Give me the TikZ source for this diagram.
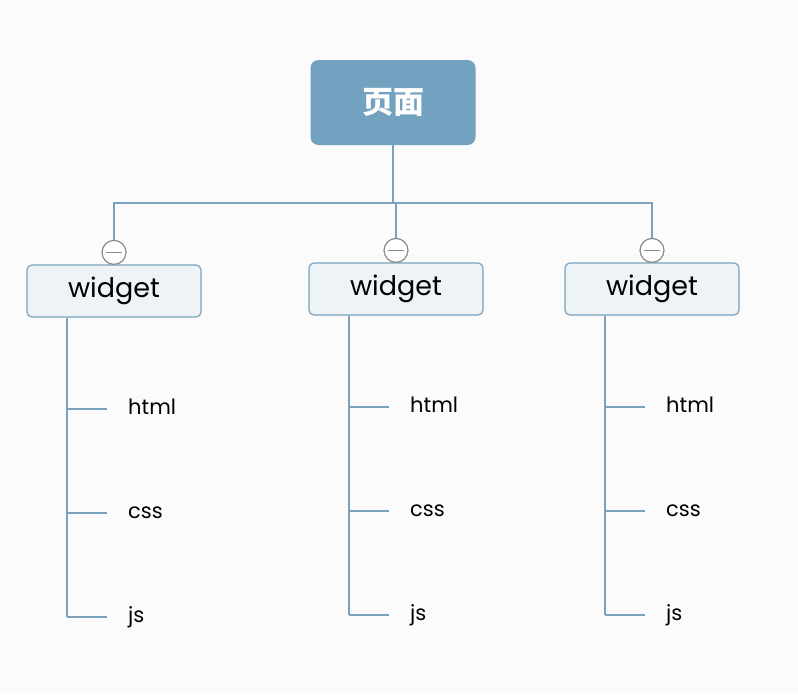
\documentclass[tikz,border=0pt]{standalone}
\usepackage{fontspec}
\setmainfont{Poppins}
\newfontfamily\cjk{Noto Sans CJK SC}
\usetikzlibrary{positioning}
\definecolor{rootblue}{HTML}{73A1C0}
\definecolor{linkblue}{HTML}{7AA2BE}
\definecolor{boxfill}{HTML}{EEF3F7}
\definecolor{bggray}{HTML}{FBFBFB}
\definecolor{knobgray}{HTML}{8A8A8A}
\begin{document}
\begin{tikzpicture}[
    x=1pt, y=-1pt,
    root/.style={fill=rootblue, rounded corners=8pt, minimum width=165pt, minimum height=85pt, text=white, font=\cjk\bfseries\fontsize{31}{36}\selectfont},
    topic/.style={draw=linkblue, fill=boxfill, line width=1.2pt, rounded corners=5pt, minimum width=174pt, minimum height=52pt, font=\fontsize{27}{30}\selectfont},
    leaf/.style={inner sep=0pt, text height=15pt, text depth=5pt, font=\fontsize{21}{24}\selectfont},
    link/.style={draw=linkblue, line width=1.5pt},
    knob/.style={circle, draw=knobgray, fill=white, line width=1.2pt, minimum size=24pt, inner sep=0pt}
]
\fill[bggray] (0,0) rectangle (798,694);

\node[root] (page) at (393,102.5) {页面};
\node[topic] (wL) at (114,291) {widget};
\node[topic] (wM) at (396,289) {widget};
\node[topic] (wR) at (652,289) {widget};

\coordinate (bus) at (393,203);
\draw[link] (page.south) -- (bus);
\draw[link] (bus) -| (wL.north);
\draw[link] (bus) -| (wM.north);
\draw[link] (bus) -| (wR.north);

\foreach \w in {wL,wM,wR}{
    \coordinate (\w-top) at ([xshift=-47pt]\w.south);
    \foreach \t/\dy in {html/118, css/222, js/326}{
        \coordinate (\w-\t-j) at ([xshift=-47pt,yshift=-\dy pt]\w.center);
        \draw[link] (\w-\t-j) -- ++(40,0);
        \node[leaf, right=61pt of \w-\t-j] (\w-\t) {\t};
    }
    \draw[link] (\w-top) -- (\w-js-j);
    % collapse knob on top of the box
    \node[knob] (\w-knob) at ([yshift=12pt]\w.north) {};
    \draw[knobgray, line width=1.6pt] ([xshift=-8pt]\w-knob.center) -- ([xshift=8pt]\w-knob.center);
}
\end{tikzpicture}
\end{document}
